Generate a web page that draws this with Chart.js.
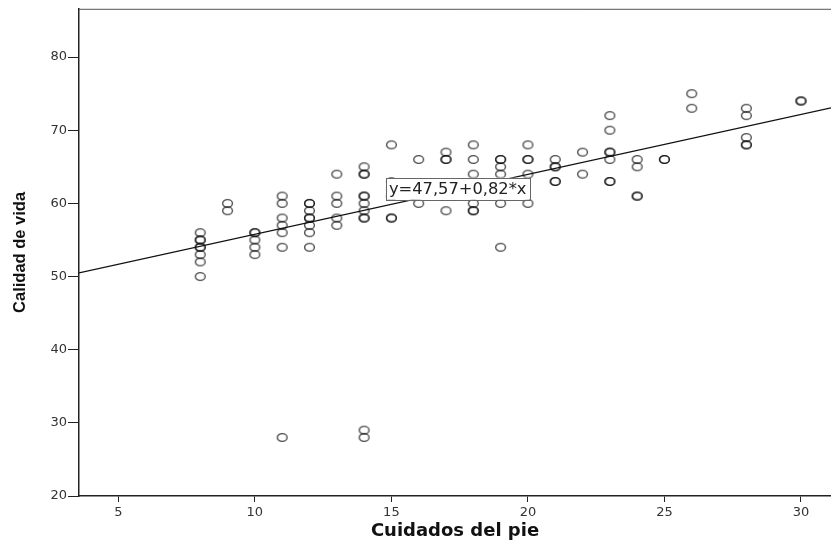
<!DOCTYPE html>
<html>
<head>
<meta charset="utf-8">
<title>Cuidados del pie vs Calidad de vida</title>
<script src="https://cdn.jsdelivr.net/npm/chart.js@4.4.1/dist/chart.umd.min.js"></script>
<style>
  html, body { margin: 0; padding: 0; background: #fff; overflow: hidden; }
</style>
</head>
<body>
<canvas id="chart" width="831" height="549"></canvas>
<script>
const cuidadosPie = [
  8, 8, 8, 8, 8, 8, 8, 8,
  9, 9,
  10, 10, 10, 10, 10,
  11, 11, 11, 11, 11, 11, 11,
  12, 12, 12, 12, 12, 12, 12, 12,
  13, 13, 13, 13, 13,
  14, 14, 14, 14, 14, 14, 14, 14, 14, 14, 14,
  15, 15, 15, 15, 15, 15, 15,
  16, 16,
  17, 17, 17, 17,
  18, 18, 18, 18, 18, 18, 18,
  19, 19, 19, 19, 19, 19,
  20, 20, 20, 20, 20,
  21, 21, 21, 21, 21,
  22, 22,
  23, 23, 23, 23, 23, 23, 23,
  24, 24, 24, 24,
  25, 25,
  26, 26,
  28, 28, 28, 28, 28,
  30, 30
];
const calidadVida = [
  56, 55, 55, 54, 54, 53, 52, 50,
  60, 59,
  56, 56, 55, 54, 53,
  61, 60, 58, 57, 56, 54, 28,
  60, 60, 59, 58, 58, 57, 56, 54,
  64, 61, 60, 58, 57,
  65, 64, 64, 61, 61, 60, 59, 58, 58, 29, 28,
  68, 63, 62, 61, 61, 58, 58,
  66, 60,
  67, 66, 66, 59,
  68, 66, 64, 62, 60, 59, 59,
  66, 66, 65, 64, 60, 54,
  68, 66, 66, 64, 60,
  66, 65, 65, 63, 63,
  67, 64,
  72, 70, 67, 67, 66, 63, 63,
  66, 65, 61, 61,
  66, 66,
  75, 73,
  73, 72, 69, 68, 68,
  74, 74
];

// fitted line as printed on the chart: y = 47,57 + 0,82*x
const intercept = 47.57;
const slope = 0.82;
const fitLabel = "y=47,57+0,82*x";
const labelAt = { x: 14.8, y: 62 };

const xTicks = [5, 10, 15, 20, 25, 30];
const yTicks = [20, 30, 40, 50, 60, 70, 80];
const xRange = [3.56, 31.1];
const yRange = [20, 86.6];

const points = cuidadosPie.map((v, i) => ({ x: v, y: calidadVida[i] }));
const fitLine = xRange.map(v => ({ x: v, y: intercept + slope * v }));

// hollow, slightly flattened marker like the SPSS output
const marker = document.createElement('canvas');
marker.width = 13;
marker.height = 11;
(function () {
  const m = marker.getContext('2d');
  m.strokeStyle = 'rgba(15,15,15,0.75)';
  m.lineWidth = 1.4;
  m.beginPath();
  m.ellipse(6.5, 5.5, 4.9, 3.9, 0, 0, Math.PI * 2);
  m.stroke();
})();

// top frame line + equation box
const extras = {
  id: 'extras',
  afterDatasetsDraw(chart) {
    const ctx = chart.ctx;
    const area = chart.chartArea;
    ctx.save();
    ctx.strokeStyle = '#555';
    ctx.lineWidth = 1;
    ctx.beginPath();
    ctx.moveTo(area.left, area.top + 0.5);
    ctx.lineTo(area.right, area.top + 0.5);
    ctx.stroke();

    const px = chart.scales.x.getPixelForValue(labelAt.x);
    const py = chart.scales.y.getPixelForValue(labelAt.y);
    ctx.font = '16.3px "DejaVu Sans", sans-serif';
    const w = ctx.measureText(fitLabel).width + 6;
    const h = 22;
    ctx.fillStyle = '#fff';
    ctx.fillRect(px, py - h / 2, w, h);
    ctx.strokeStyle = '#666';
    ctx.strokeRect(Math.round(px) + 0.5, Math.round(py - h / 2) + 0.5, Math.round(w), h);
    ctx.fillStyle = '#222';
    ctx.textBaseline = 'middle';
    ctx.fillText(fitLabel, px + 3, py + 1);
    ctx.restore();
  }
};

new Chart(document.getElementById('chart'), {
  type: 'scatter',
  data: {
    datasets: [
      {
        data: points,
        pointStyle: marker,
        pointRadius: 5,
        pointHoverRadius: 5
      },
      {
        type: 'line',
        data: fitLine,
        borderColor: '#111',
        borderWidth: 1.2,
        pointRadius: 0,
        fill: false
      }
    ]
  },
  options: {
    responsive: false,
    animation: false,
    devicePixelRatio: 1,
    layout: { autoPadding: false, padding: { top: 7, right: 0, left: 0, bottom: 0 } },
    plugins: { legend: { display: false }, tooltip: { enabled: false } },
    scales: {
      x: {
        type: 'linear',
        min: xRange[0],
        max: xRange[1],
        afterBuildTicks: s => { s.ticks = xTicks.map(v => ({ value: v })); },
        afterFit: s => { s.height = 53; },
        grid: { drawOnChartArea: false, color: '#222', tickLength: 6 },
        border: { color: '#222', width: 1.5 },
        ticks: {
          color: '#333',
          padding: 3,
          font: { family: '"DejaVu Sans", sans-serif', size: 13 }
        },
        title: {
          display: true,
          text: 'Cuidados del pie',
          color: '#111',
          padding: { top: 0, bottom: 7 },
          font: { family: '"DejaVu Sans", sans-serif', size: 18, weight: 'bold' }
        }
      },
      y: {
        type: 'linear',
        min: yRange[0],
        max: yRange[1],
        afterBuildTicks: s => { s.ticks = yTicks.map(v => ({ value: v })); },
        afterFit: s => { s.width = 79; },
        grid: { drawOnChartArea: false, color: '#222', tickLength: 11 },
        border: { color: '#222', width: 1.5 },
        ticks: {
          color: '#333',
          padding: 1,
          font: { family: '"DejaVu Sans", sans-serif', size: 13 }
        },
        title: {
          display: true,
          text: 'Calidad de vida',
          color: '#111',
          padding: { top: 11, bottom: 0 },
          font: { family: '"Liberation Sans", Arial, sans-serif', size: 16.5, weight: 'bold' }
        }
      }
    }
  },
  plugins: [extras]
});
</script>
</body>
</html>
